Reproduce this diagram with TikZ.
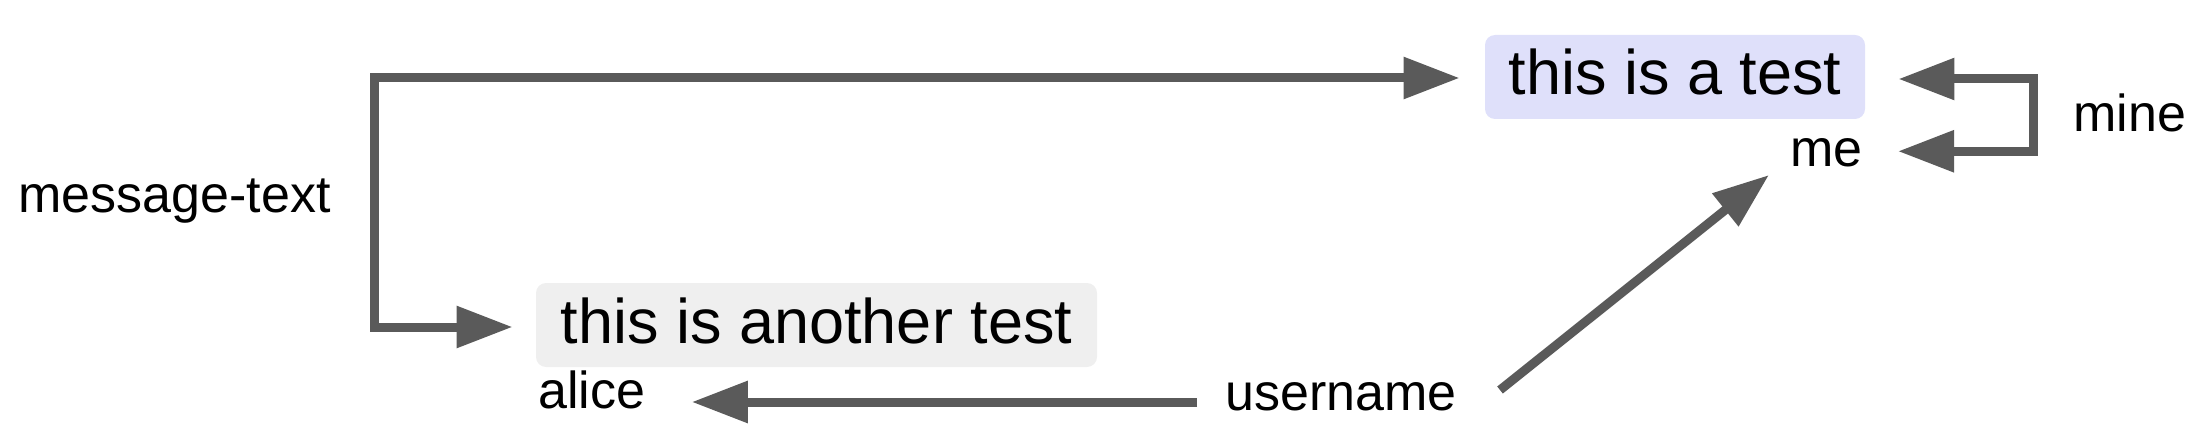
\documentclass[tikz,border=0pt]{standalone}
\usepackage{fontspec}
\setmainfont{Liberation Sans}
\usetikzlibrary{arrows.meta}
\definecolor{arrgray}{HTML}{5A5A5A}
\definecolor{mybg}{HTML}{DFE0FA}
\definecolor{otherbg}{HTML}{EFEFEF}
\begin{document}
\begin{tikzpicture}[x=0.5pt,y=-0.5pt,
  conn/.style={draw=arrgray, line width=4.5pt, line join=miter, -{Triangle[length=28pt,width=20pt]}},
  bothconn/.style={draw=arrgray, line width=4.5pt, line join=miter, {Triangle[length=28pt,width=20pt]}-{Triangle[length=28pt,width=20pt]}},
  lbl/.style={inner sep=0pt, font=\fontsize{26pt}{30pt}\selectfont},
  msg/.style={inner sep=0pt, rounded corners=5pt, font=\fontsize{31.5pt}{36pt}\selectfont, text height=30pt, text depth=12pt, anchor=base}]
\useasboundingbox (0,0) rectangle (2202,444);
% message bubbles
\node[msg, fill=mybg, minimum width=190pt] (t1) at (1675,95) {this is a test};
\node[msg, fill=otherbg, minimum width=280.5pt] (t2) at (816.5,343) {this is another test};
% labels
\node[lbl, anchor=base west] (mt) at (18,213) {message-text};
\node[lbl, anchor=base west] (alice) at (538,408) {alice};
\node[lbl, anchor=base west] (un) at (1225,410) {username};
\node[lbl, anchor=base east] (me) at (1863,167) {me};
\node[lbl, anchor=base west] (mine) at (2073,132) {mine};
% bracket corners
\coordinate (mtx) at (374.5,200);
\coordinate (mx) at (2033,115);
% connectors
\draw[bothconn] ([xshift=-12.5pt,yshift=-0.5pt]t1.west) -| (mtx) |- ([xshift=-11.5pt,yshift=-1pt]t2.west);
\draw[bothconn] ([xshift=16.5pt,yshift=-1pt]t1.east) -| (mx) |- ([xshift=17.5pt,yshift=1pt]me.east);
\draw[conn] ([shift={(-14pt,4pt)}]un.base west) -- ([shift={(23pt,3pt)}]alice.base east);
\draw[conn] ([shift={(21.5pt,10pt)}]un.base east) -- ([shift={(-10.5pt,-4pt)}]me.base west);
\end{tikzpicture}
\end{document}
